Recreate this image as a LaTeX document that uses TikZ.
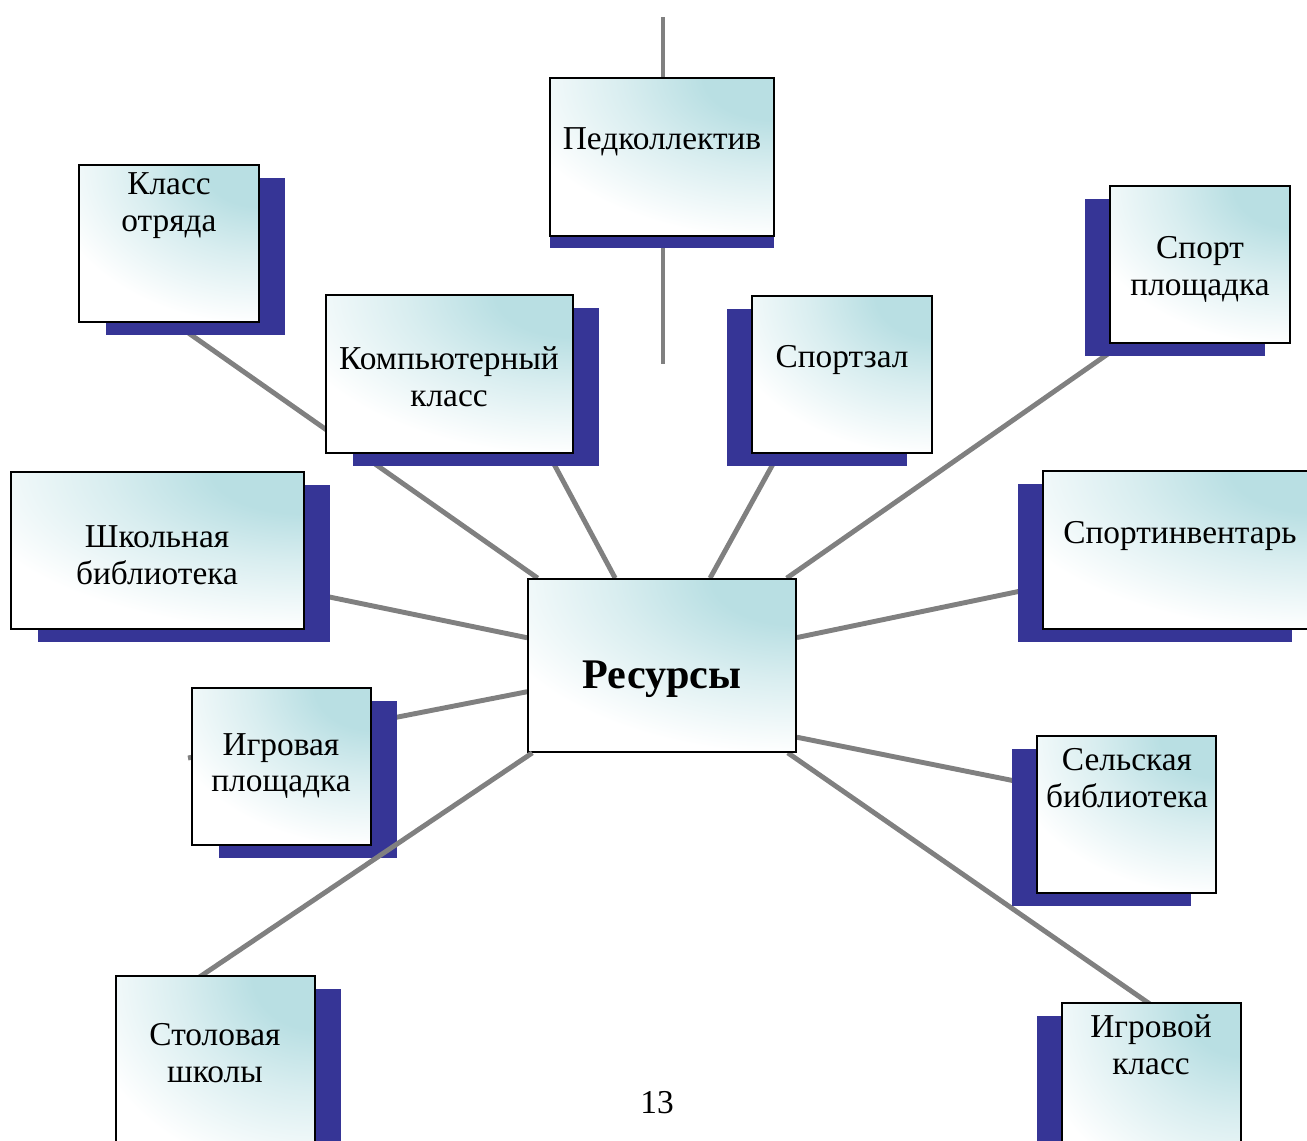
\documentclass[tikz,border=0pt]{standalone}
\usepackage{fontspec}
\setmainfont{Liberation Serif}
\usetikzlibrary{shadows,backgrounds,calc}

\definecolor{boxteal}{RGB}{185,223,227}
\definecolor{shadowblue}{RGB}{54,53,150}
\definecolor{linegray}{RGB}{128,128,128}
\pgfdeclareradialshading{glow}{\pgfpoint{0bp}{0bp}}{color(0bp)=(boxteal); color(6bp)=(boxteal); color(13bp)=(boxteal!55!white); color(23bp)=(white); color(50bp)=(white)}

\begin{document}
\begin{tikzpicture}[x=0.02cm, y=-0.02cm,
	box/.style={draw=black, line width=1pt, fill=white, inner sep=0pt,
		path picture={
			\coordinate (gw) at ($(path picture bounding box.north east)!1.3!(path picture bounding box.north west)$);
			\coordinate (ge) at ($(path picture bounding box.north east)!-1.3!(path picture bounding box.north west)$);
			\coordinate (gs) at ($(path picture bounding box.north east)!1.1!(path picture bounding box.south east)$);
			\coordinate (gn) at ($(path picture bounding box.north east)!-1.1!(path picture bounding box.south east)$);
			\shade[shading=glow] (gw |- gs) rectangle (ge |- gn);}},
	shR/.style={drop shadow={shadow xshift=0.53cm, shadow yshift=-0.26cm, fill=shadowblue, opacity=1}},
	shL/.style={drop shadow={shadow xshift=-0.5cm, shadow yshift=-0.26cm, fill=shadowblue, opacity=1}},
	shD/.style={drop shadow={shadow xshift=0cm, shadow yshift=-0.24cm, fill=shadowblue, opacity=1}},
	conn/.style={draw=linegray, line width=2.8pt},
	txt/.style={align=center, inner sep=0pt, font=\fontsize{19}{21}\selectfont}
	]

\useasboundingbox (0,0) rectangle (1307,1140);

% free ends of the connectors
\coordinate (pedtop) at (663,17);
\coordinate (pedend) at (663,364);
\coordinate (c-klass) at (170,320);
\coordinate (c-komp) at (540,438);
\coordinate (c-zal) at (784,444);
\coordinate (c-sport) at (1125,342);
\coordinate (c-inv) at (1040,587);
\coordinate (c-shkol) at (310,593);
\coordinate (c-igrpl) at (188,758);
\coordinate (c-sel) at (1040,786);
\coordinate (c-igrkl) at (1160,1011);
\coordinate (c-stol) at (195,980);

\node[box, minimum width=5.36cm, minimum height=3.46cm] (res) at (662,665.5) {};
\node[txt, font=\fontsize{24}{27}\selectfont\bfseries] (res-t) at (662,679) {Ресурсы};

\node[box, shD, minimum width=4.48cm, minimum height=3.16cm] (ped) at (662,157) {};
\node[txt] (ped-t) at (662,142) {Педколлектив};

\node[box, shR, minimum width=3.6cm, minimum height=3.14cm] (klass) at (169,243.5) {};
\node[txt] (klass-t) at (169,206) {Класс\\отряда};

\node[box, shR, minimum width=4.94cm, minimum height=3.16cm] (komp) at (449.5,374) {};
\node[txt] (komp-t) at (449,377) {Компьютерный\\класс};

\node[box, shL, minimum width=3.6cm, minimum height=3.14cm] (zal) at (842,374.5) {};
\node[txt] (zal-t) at (842,360) {Спортзал};

\node[box, shL, minimum width=3.6cm, minimum height=3.14cm] (sport) at (1200,264.5) {};
\node[txt] (sport-t) at (1200,269) {Спорт\\площадка};

\node[box, shR, minimum width=5.86cm, minimum height=3.14cm] (shkol) at (157.5,550.5) {};
\node[txt] (shkol-t) at (157,555) {Школьная\\библиотека};

\node[box, shL, minimum width=5.48cm, minimum height=3.16cm] (inv) at (1180,550) {};
\node[txt] (inv-t) at (1180,536) {Спортинвентарь};

\node[box, shR, minimum width=3.58cm, minimum height=3.14cm] (igrpl) at (281.5,766.5) {};
\node[txt] (igrpl-t) at (281,766) {Игровая\\площадка};

\node[box, shL, minimum width=3.58cm, minimum height=3.14cm] (sel) at (1126.5,814.5) {};
\node[txt] (sel-t) at (1127,778) {Сельская\\библиотека};

\node[box, shL, minimum width=3.58cm, minimum height=4cm] (igrkl) at (1151.5,1103) {};
\node[txt] (igrkl-t) at (1151,1045) {Игровой\\класс};

% connectors behind the boxes
\begin{scope}[on background layer]
\draw[conn] (pedtop) -- (pedend);
\draw[conn] (res) -- (c-klass);
\draw[conn] (res) -- (c-komp);
\draw[conn] (res) -- (c-zal);
\draw[conn] (res) -- (c-sport);
\draw[conn] (res) -- (c-inv);
\draw[conn] (res) -- (c-shkol);
\draw[conn] (res) -- (c-igrpl);
\draw[conn] (res.-28) -- (c-sel);
\draw[conn] (res) -- (c-igrkl);
\end{scope}

% this one runs over the shadow
\draw[conn] (res) -- (c-stol);

\node[box, shR, minimum width=3.98cm, minimum height=4cm] (stol) at (215.5,1076) {};
\node[txt] (stol-t) at (215,1053) {Столовая\\школы};

\node[txt] (page) at (657,1103) {13};

\end{tikzpicture}
\end{document}
